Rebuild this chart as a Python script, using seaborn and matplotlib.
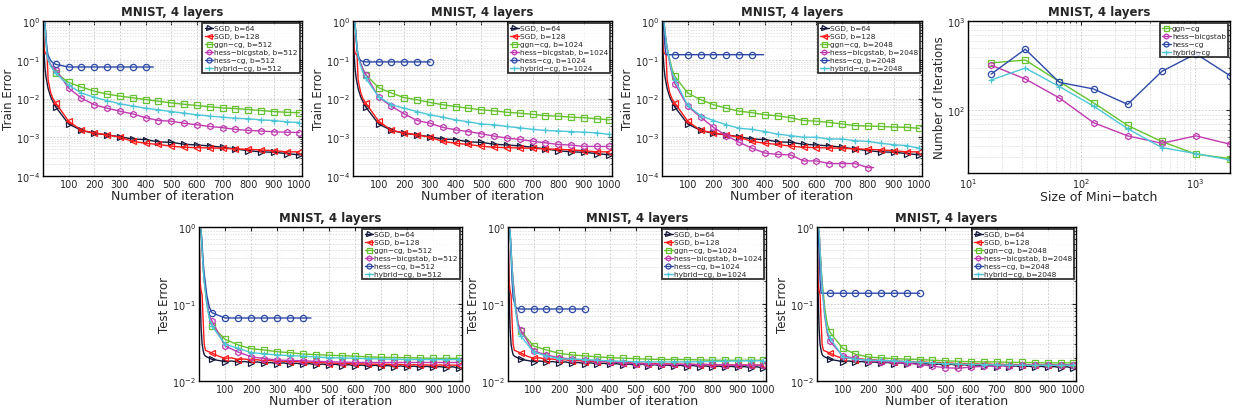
import matplotlib
matplotlib.use("Agg")
import matplotlib.pyplot as plt
import seaborn as sns

EARLY_ITER = [0, 4, 8, 12, 16, 20, 30, 40]
MARK_ITER = list(range(50, 1001, 50))
SGD_TEST_ITER = [0, 4, 8, 12, 16, 20] + list(range(25, 1001, 25))

# ---- train error, SGD (same in the three train panels)
train_sgd64 = [1.0, 0.15, 0.06, 0.035, 0.025, 0.018, 0.011, 0.008,
               6.0e-3, 2.2e-3, 1.5e-3, 1.26e-3, 1.15e-3, 1.03e-3, 9.0e-4, 8.7e-4, 7.6e-4, 7.4e-4,
               6.6e-4, 6.3e-4, 6.0e-4, 5.5e-4, 5.0e-4, 4.5e-4, 4.2e-4, 4.1e-4, 3.8e-4, 3.5e-4]
train_sgd128 = [1.0, 0.2, 0.15, 0.14, 0.13, 0.03, 0.014, 0.0095,
                7.6e-3, 2.6e-3, 1.5e-3, 1.3e-3, 1.15e-3, 1.0e-3, 7.8e-4, 7.0e-4, 6.5e-4, 5.9e-4,
                5.5e-4, 5.4e-4, 5.3e-4, 5.2e-4, 5.0e-4, 4.9e-4, 4.7e-4, 4.5e-4, 4.2e-4, 4.2e-4]

# ---- train error, b=512
train512_ggn = [1.0, 1.0, 0.8, 0.3, 0.13, 0.1, 0.07, 0.055,
                0.046, 0.026, 0.0196, 0.0155, 0.013, 0.0115, 0.0104, 0.0094, 0.0085, 0.0077,
                0.0071, 0.0066, 0.0061, 0.0057, 0.0055, 0.0052, 0.0049, 0.0046, 0.0044, 0.0043]
train512_bicg = [1.0, 1.0, 0.8, 0.3, 0.13, 0.1, 0.075, 0.062,
                 0.055, 0.0186, 0.0102, 0.0069, 0.0056, 0.0047, 0.0040, 0.0032, 0.0027, 0.0026,
                 0.0023, 0.0021, 0.0019, 0.00177, 0.0016, 0.0015, 0.00145, 0.00138, 0.00135, 0.00132]
train512_hcg = [1.0, 1.0, 0.85, 0.35, 0.18, 0.13, 0.095, 0.082,
                0.076, 0.065, 0.065, 0.065, 0.065, 0.065, 0.065, 0.065, 0.065]
train512_hcg_end = 430
train512_hyb = [1.0, 1.0, 0.8, 0.3, 0.13, 0.1, 0.07, 0.055,
                0.045, 0.022, 0.0138, 0.0108, 0.0088, 0.0073, 0.0064, 0.0056, 0.0051, 0.0046,
                0.0042, 0.0038, 0.0035, 0.0033, 0.0031, 0.0030, 0.0028, 0.0027, 0.0025, 0.0024]

# ---- train error, b=1024
train1024_ggn = [1.0, 1.0, 0.85, 0.4, 0.2, 0.13, 0.08, 0.055,
                 0.041, 0.019, 0.0138, 0.0105, 0.0093, 0.0079, 0.0069, 0.0062, 0.0056, 0.0051,
                 0.0048, 0.0044, 0.0042, 0.0039, 0.0036, 0.0035, 0.0033, 0.0032, 0.0030, 0.0028]
train1024_bicg = [1.0, 1.0, 0.85, 0.4, 0.2, 0.13, 0.08, 0.055,
                  0.041, 0.0108, 0.0063, 0.0040, 0.0027, 0.0023, 0.0018, 0.00155, 0.0014, 0.00123,
                  0.00107, 9.5e-4, 8.8e-4, 7.9e-4, 7.2e-4, 6.5e-4, 6.3e-4, 5.8e-4, 5.8e-4, 5.8e-4]
train1024_hcg = [1.0, 1.0, 0.85, 0.35, 0.17, 0.12, 0.095, 0.09,
                 0.088, 0.088, 0.088, 0.088, 0.088, 0.088]
train1024_hcg_end = 300
train1024_hyb = [1.0, 1.0, 0.85, 0.4, 0.2, 0.12, 0.07, 0.045,
                 0.033, 0.011, 0.0069, 0.0056, 0.0046, 0.0038, 0.0033, 0.0028, 0.0025, 0.0022,
                 0.0021, 0.0019, 0.00175, 0.0016, 0.0015, 0.00145, 0.0014, 0.00135, 0.0013, 0.00118]

# ---- train error, b=2048
train2048_ggn = [1.0, 1.0, 0.9, 0.5, 0.3, 0.2, 0.1, 0.055,
                 0.037, 0.0138, 0.0093, 0.0069, 0.0056, 0.0047, 0.0043, 0.0038, 0.00355, 0.0032,
                 0.0027, 0.0026, 0.0024, 0.0022, 0.0020, 0.00195, 0.0019, 0.00183, 0.0018, 0.0017]
train2048_bicg = [1.0, 1.0, 0.9, 0.5, 0.3, 0.2, 0.08, 0.04,
                  0.024, 0.0063, 0.0033, 0.0018, 0.0011, 7.4e-4, 5.2e-4, 3.9e-4, 3.6e-4, 3.5e-4,
                  2.45e-4, 2.45e-4, 2.1e-4, 2.1e-4, 2.1e-4, 1.65e-4, 1.65e-4]
train2048_bicg_end = 822
train2048_hcg = [1.0, 0.9, 0.5, 0.2, 0.135, 0.135, 0.135, 0.135,
                 0.135, 0.135, 0.135, 0.135, 0.135, 0.135, 0.135, 0.135]
train2048_hcg_end = 395
train2048_hyb = [1.0, 1.0, 0.9, 0.5, 0.3, 0.2, 0.09, 0.045,
                 0.030, 0.0066, 0.0036, 0.0027, 0.0021, 0.0017, 0.0016, 0.0014, 0.0012, 0.0011,
                 0.0010, 0.0010, 9.0e-4, 9.0e-4, 8.1e-4, 7.8e-4, 7.0e-4, 6.4e-4, 6.1e-4, 5.2e-4]

# ---- test error, SGD (same in the three test panels)
test_sgd64 = [1.0, 0.15, 0.05, 0.03, 0.025, 0.022,
              0.021, 0.0191, 0.0185, 0.0178, 0.0182, 0.0176, 0.0179, 0.0173, 0.0177, 0.0170,
              0.0174, 0.0168, 0.0172, 0.0166, 0.0170, 0.0164, 0.0168, 0.0162, 0.0166, 0.0160,
              0.0165, 0.0158, 0.0163, 0.0157, 0.0161, 0.0155, 0.0160, 0.0154, 0.0159, 0.0153,
              0.0157, 0.0152, 0.0156, 0.0151, 0.0155, 0.0150, 0.0154, 0.0149, 0.0153, 0.0146]
test_sgd128 = [1.0, 0.2, 0.15, 0.13, 0.06, 0.03,
               0.025, 0.0231, 0.0210, 0.0197, 0.0200, 0.0190, 0.0193, 0.0186, 0.0189, 0.0182,
               0.0185, 0.0178, 0.0181, 0.0176, 0.0179, 0.0174, 0.0176, 0.0171, 0.0174, 0.0168,
               0.0171, 0.0166, 0.0169, 0.0164, 0.0167, 0.0164, 0.0166, 0.0163, 0.0165, 0.0161,
               0.0164, 0.0160, 0.0163, 0.0160, 0.0162, 0.0159, 0.0162, 0.0159, 0.0161, 0.0160]

# ---- test error, b=512
test512_ggn = [1.0, 1.0, 0.9, 0.5, 0.3, 0.2, 0.1, 0.065,
               0.052, 0.0348, 0.0294, 0.0263, 0.0253, 0.0240, 0.0233, 0.0224, 0.0220, 0.0216,
               0.0213, 0.0210, 0.0206, 0.0203, 0.0202, 0.0201, 0.0199, 0.0197, 0.0197, 0.0197]
test512_bicg = [1.0, 1.0, 0.9, 0.5, 0.3, 0.2, 0.11, 0.07,
                0.060, 0.0285, 0.0238, 0.0207, 0.0195, 0.0187, 0.0185, 0.0183, 0.0180, 0.0178,
                0.0176, 0.0174, 0.0174, 0.0174, 0.0174, 0.0174, 0.0174, 0.0174, 0.0174, 0.0174]
test512_hcg = [1.0, 1.0, 0.9, 0.6, 0.35, 0.25, 0.13, 0.09,
               0.077, 0.0658, 0.0658, 0.0658, 0.0658, 0.0658, 0.0658, 0.0658, 0.0658]
test512_hcg_end = 430
test512_hyb = [1.0, 1.0, 0.9, 0.5, 0.3, 0.2, 0.1, 0.065,
               0.052, 0.030, 0.0266, 0.0234, 0.0225, 0.0218, 0.0214, 0.0210, 0.0205, 0.0201,
               0.0199, 0.0197, 0.0195, 0.0193, 0.0191, 0.0190, 0.0190, 0.0190, 0.0190, 0.0190]

# ---- test error, b=1024
test1024_ggn = [1.0, 1.0, 0.9, 0.5, 0.3, 0.2, 0.09, 0.055,
                0.0446, 0.0285, 0.0253, 0.0229, 0.0218, 0.0212, 0.0206, 0.0201, 0.0198, 0.0195,
                0.0192, 0.0190, 0.0190, 0.0190, 0.0188, 0.0186, 0.0186, 0.0186, 0.0186, 0.0186]
test1024_bicg = [1.0, 1.0, 0.9, 0.5, 0.3, 0.2, 0.09, 0.055,
                 0.0456, 0.0245, 0.0218, 0.0201, 0.0193, 0.0187, 0.0182, 0.0178, 0.0172, 0.0168,
                 0.0166, 0.0164, 0.0164, 0.0164, 0.0164, 0.0164, 0.0162, 0.0160, 0.0160, 0.0160]
test1024_hcg = [1.0, 1.0, 0.9, 0.45, 0.2, 0.12, 0.09, 0.087,
                0.0861, 0.0861, 0.0861, 0.0861, 0.0861, 0.0861]
test1024_hcg_end = 300
test1024_hyb = [1.0, 1.0, 0.9, 0.5, 0.28, 0.18, 0.08, 0.048,
                0.0384, 0.0238, 0.0212, 0.0195, 0.0192, 0.0190, 0.0186, 0.0183, 0.0180, 0.0178,
                0.0177, 0.0177, 0.0177, 0.0177, 0.0178, 0.0180, 0.0181, 0.0182, 0.0183, 0.0183]

# ---- test error, b=2048
test2048_ggn = [1.0, 1.0, 0.9, 0.5, 0.3, 0.2, 0.09, 0.055,
                0.0433, 0.0266, 0.0223, 0.0205, 0.0200, 0.0195, 0.0192, 0.0190, 0.0186, 0.0183,
                0.0180, 0.0178, 0.0177, 0.0177, 0.0175, 0.0174, 0.0173, 0.0172, 0.0172, 0.0172]
test2048_bicg = [1.0, 1.0, 0.9, 0.5, 0.28, 0.17, 0.07, 0.042,
                 0.033, 0.0212, 0.0197, 0.0183, 0.0178, 0.0175, 0.0170, 0.0164, 0.0156, 0.0149,
                 0.0146, 0.0152, 0.0155, 0.0157, 0.0158, 0.0160, 0.0160, 0.0160, 0.0161, 0.0162]
test2048_hcg = [1.0, 0.9, 0.5, 0.2, 0.138, 0.138, 0.138, 0.138,
                0.138, 0.138, 0.138, 0.138, 0.138, 0.138, 0.138, 0.138]
test2048_hcg_end = 400
test2048_hyb = [1.0, 1.0, 0.9, 0.5, 0.28, 0.17, 0.075, 0.045,
                0.0366, 0.0207, 0.0191, 0.0187, 0.0185, 0.0183, 0.0179, 0.0175, 0.0171, 0.0168,
                0.0166, 0.0164, 0.0163, 0.0162, 0.0161, 0.0160, 0.0160, 0.0160, 0.0160, 0.0160]

# ---- iterations vs mini-batch size
BATCH = [16, 32, 64, 128, 256, 512, 1024, 2048]
batch_ggn = [340, 366, 210, 122, 68, 45, 32.5, 29]
batch_bicg = [321, 225, 138, 73, 52, 43, 52, 42]
batch_hcg = [255, 484, 206, 174, 117, 273, 430, 245]
batch_hyb = [219, 298, 185, 112, 62.5, 38.5, 33, 28]

STYLE = {
    "sgd64": ("#15193a", ">"),
    "sgd128": ("#ff1a1a", "<"),
    "ggn": ("#66c22e", "s"),
    "bicg": ("#c03ab0", "h"),
    "hcg": ("#2e4aa8", "o"),
    "hyb": ("#4cc6d6", "+"),
}

sns.set_style("white")
plt.rcParams["font.family"] = ["DejaVu Sans"]


def iters(values, end=None, base=None):
    base = base if base is not None else EARLY_ITER + MARK_ITER
    if end is None:
        return base[:len(values)]
    return base[:len(values) - 1] + [end]


def draw(ax, x, y, key, label):
    color, marker = STYLE[key]
    marks = [i for i, v in enumerate(x) if v > 0 and v % 50 == 0]
    sns.lineplot(x=x, y=y, ax=ax, color=color, marker=marker, markevery=marks,
                 markersize=4.5, markerfacecolor="none", markeredgecolor=color,
                 markeredgewidth=0.9, linewidth=1.0, label=label, sort=False)


def finish(ax, ylabel, xlabel):
    ax.tick_params(which="both", direction="in", top=True, right=True, labelsize=7, length=3, pad=2)
    ax.tick_params(which="minor", length=1.5)
    ax.set_xlabel(xlabel, fontsize=9, labelpad=0)
    ax.set_ylabel(ylabel, fontsize=8.5, labelpad=1)
    ax.set_title("MNIST, 4 layers", fontsize=8.5, fontweight="bold", pad=4)
    for s in ax.spines.values():
        s.set_color("black")
        s.set_linewidth(1.0)
    leg = ax.legend(loc="upper right", fontsize=5.3, frameon=True, fancybox=False,
                    borderpad=0.3, labelspacing=0.25, handlelength=1.2, handletextpad=0.15,
                    borderaxespad=0.25, markerscale=0.8)
    leg.get_frame().set_edgecolor("black")
    leg.get_frame().set_linewidth(1.3)


def style_iter_axes(ax, ylabel, ylim):
    ax.set_yscale("log")
    ax.set_xlim(0, 1010)
    ax.set_ylim(*ylim)
    ax.set_xticks(MARK_ITER[1::2])
    ax.grid(True, which="major", axis="both", color="#c4c4c4", linestyle=(0, (2, 2)), linewidth=0.6)
    ax.grid(True, which="minor", axis="y", color="#d4d4d4", linestyle=(0, (2, 2)), linewidth=0.5)
    finish(ax, ylabel, "Number of iteration")


fig = plt.figure(figsize=(12.35, 4.14), dpi=100)
W, H = 1235, 414


def axes_px(left, right, top, bottom):
    return fig.add_axes([left / W, (H - bottom) / H, (right - left) / W, (bottom - top) / H])


train_panels = [
    (43, 302, "512", train512_ggn, train512_bicg, None, train512_hcg, train512_hcg_end, train512_hyb),
    (353, 612, "1024", train1024_ggn, train1024_bicg, None, train1024_hcg, train1024_hcg_end, train1024_hyb),
    (662, 922, "2048", train2048_ggn, train2048_bicg, train2048_bicg_end, train2048_hcg, train2048_hcg_end, train2048_hyb),
]
for left, right, b, ggn, bicg, bicg_end, hcg, hcg_end, hyb in train_panels:
    ax = axes_px(left, right, 22, 177)
    draw(ax, iters(train_sgd64), train_sgd64, "sgd64", "SGD, b=64")
    draw(ax, iters(train_sgd128), train_sgd128, "sgd128", "SGD, b=128")
    draw(ax, iters(ggn), ggn, "ggn", f"ggn\u2212cg, b={b}")
    draw(ax, iters(bicg, bicg_end), bicg, "bicg", f"hess\u2212bicgstab, b={b}")
    draw(ax, iters(hcg, hcg_end), hcg, "hcg", f"hess\u2212cg, b={b}")
    draw(ax, iters(hyb), hyb, "hyb", f"hybrid\u2212cg, b={b}")
    style_iter_axes(ax, "Train Error", (1e-4, 1))

test_panels = [
    (199, 462, "512", test512_ggn, test512_bicg, test512_hcg, test512_hcg_end, test512_hyb),
    (508, 766, "1024", test1024_ggn, test1024_bicg, test1024_hcg, test1024_hcg_end, test1024_hyb),
    (817, 1076, "2048", test2048_ggn, test2048_bicg, test2048_hcg, test2048_hcg_end, test2048_hyb),
]
for left, right, b, ggn, bicg, hcg, hcg_end, hyb in test_panels:
    ax = axes_px(left, right, 228, 382)
    draw(ax, SGD_TEST_ITER, test_sgd64, "sgd64", "SGD, b=64")
    draw(ax, SGD_TEST_ITER, test_sgd128, "sgd128", "SGD, b=128")
    draw(ax, iters(ggn), ggn, "ggn", f"ggn\u2212cg, b={b}")
    draw(ax, iters(bicg), bicg, "bicg", f"hess\u2212bicgstab, b={b}")
    draw(ax, iters(hcg, hcg_end), hcg, "hcg", f"hess\u2212cg, b={b}")
    draw(ax, iters(hyb), hyb, "hyb", f"hybrid\u2212cg, b={b}")
    style_iter_axes(ax, "Test Error", (1e-2, 1))

# mini-batch panel
ax = axes_px(968, 1230, 22, 174)
for key, vals, label in [("ggn", batch_ggn, "ggn\u2212cg"), ("bicg", batch_bicg, "hess\u2212bicgstab"),
                         ("hcg", batch_hcg, "hess\u2212cg"), ("hyb", batch_hyb, "hybrid\u2212cg")]:
    color, marker = STYLE[key]
    sns.lineplot(x=BATCH, y=vals, ax=ax, color=color, marker=marker, markersize=4.5,
                 markerfacecolor="none", markeredgecolor=color, markeredgewidth=0.9,
                 linewidth=1.0, label=label)
ax.set_xscale("log")
ax.set_yscale("log")
ax.set_xlim(10, 2048)
ax.set_ylim(20, 1000)
ax.grid(True, which="major", color="#c4c4c4", linestyle=(0, (2, 2)), linewidth=0.6)
ax.grid(True, which="minor", color="#d4d4d4", linestyle=(0, (2, 2)), linewidth=0.5)
finish(ax, "Number of Iterations", "Size of Mini\u2212batch")

fig.savefig("out.png", dpi=100)
